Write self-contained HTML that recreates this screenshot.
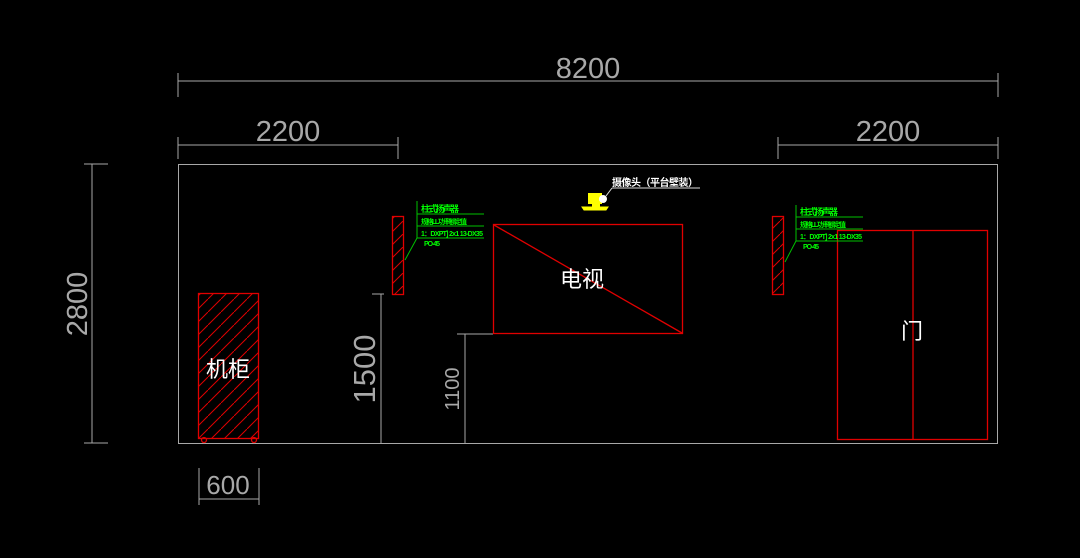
<!DOCTYPE html>
<html><head><meta charset="utf-8"><style>
html,body{margin:0;padding:0;background:#000;}
svg{display:block}
text{font-family:"Liberation Sans","Noto Sans CJK SC",sans-serif;}
</style></head><body>
<svg width="1080" height="558" viewBox="0 0 1080 558" xmlns="http://www.w3.org/2000/svg">
<defs>
<pattern id="h" patternUnits="userSpaceOnUse" width="13" height="13">
<path d="M-1,14 L14,-1" stroke="#e00000" stroke-width="1"/>
</pattern>
</defs>
<g stroke="#a8a8a8" stroke-width="1" fill="none">
<line x1="178" y1="81" x2="998" y2="81"/>
<line x1="178" y1="73" x2="178" y2="97"/>
<line x1="998" y1="73" x2="998" y2="97"/>
<line x1="178" y1="145" x2="398" y2="145"/>
<line x1="178" y1="137" x2="178" y2="159"/>
<line x1="398" y1="137" x2="398" y2="159"/>
<line x1="778" y1="145" x2="998" y2="145"/>
<line x1="778" y1="137" x2="778" y2="159"/>
<line x1="998" y1="137" x2="998" y2="159"/>
<rect x="178.5" y="164.5" width="819" height="279"/>
<line x1="92" y1="164" x2="92" y2="443"/>
<line x1="84" y1="164" x2="108" y2="164"/>
<line x1="84" y1="443" x2="108" y2="443"/>
<line x1="199" y1="468" x2="199" y2="505"/>
<line x1="259" y1="468" x2="259" y2="505"/>
<line x1="199" y1="499" x2="259" y2="499"/>
<line x1="381" y1="294" x2="381" y2="443"/>
<line x1="372" y1="294" x2="384" y2="294"/>
<line x1="465" y1="334" x2="465" y2="443"/>
<line x1="457" y1="334" x2="493" y2="334"/>
</g>
<g fill="#a8a8a8" text-anchor="middle">
<text x="588" y="78" font-size="29">8200</text>
<text x="288" y="141" font-size="29">2200</text>
<text x="888" y="141" font-size="29">2200</text>
<text x="228" y="494" font-size="26">600</text>
<text transform="translate(87,304) rotate(-90)" font-size="29">2800</text>
<text transform="translate(375,369) rotate(-90)" font-size="31">1500</text>
<text transform="translate(459,389) rotate(-90)" font-size="20">1100</text>
</g>
<g stroke="#e00000" stroke-width="1.3">
<rect x="198.5" y="293.5" width="60" height="145" fill="url(#h)"/>
<circle cx="204" cy="440" r="2.5" fill="none"/>
<circle cx="254" cy="440" r="2.5" fill="none"/>
<rect x="392.5" y="216.5" width="11" height="78" fill="url(#h)"/>
<rect x="772.5" y="216.5" width="11" height="78" fill="url(#h)"/>
<rect x="493.5" y="224.5" width="189" height="109" fill="none"/>
<line x1="494" y1="225" x2="682" y2="333"/>
<rect x="837.5" y="230.5" width="150" height="209" fill="none"/>
<line x1="913" y1="230" x2="913" y2="440"/>
</g>
<text x="228" y="377" font-size="22" fill="#fff" text-anchor="middle">机柜</text>
<text x="582" y="287" font-size="22" fill="#fff" text-anchor="middle">电视</text>
<text x="912" y="339" font-size="22" fill="#fff" text-anchor="middle">门</text>
<g fill="#ffff00" stroke="#ffff00">
<rect x="588" y="193" width="14" height="11" stroke="none"/>
<path d="M582,207 L608,207 L606,210 L584,210 Z"/>
<rect x="592" y="203" width="8" height="4" stroke="none"/>
</g>
<circle cx="603" cy="199" r="4" fill="#fff"/>
<line x1="606" y1="196" x2="612" y2="188" stroke="#ddd"/>
<line x1="612" y1="188" x2="700" y2="188" stroke="#ddd"/>
<text x="612" y="186" font-size="10" fill="#fff" font-weight="bold" textLength="86">摄像头（平台壁装）</text>
<g stroke="#00c000" fill="none">
<line x1="417" y1="201" x2="417" y2="238"/>
<line x1="417" y1="214" x2="484" y2="214"/>
<line x1="417" y1="226" x2="484" y2="226"/>
<line x1="417" y1="238" x2="484" y2="238"/>
<line x1="417" y1="238" x2="405" y2="260"/>
<line x1="796" y1="205" x2="796" y2="241"/>
<line x1="796" y1="217" x2="863" y2="217"/>
<line x1="796" y1="229" x2="863" y2="229"/>
<line x1="796" y1="241" x2="863" y2="241"/>
<line x1="796" y1="241" x2="785" y2="262"/>
</g>
<g fill="#00ff00" font-weight="bold">
<text x="421" y="212" font-size="9" textLength="38">柱式扬声器</text>
<text x="421" y="224" font-size="7" textLength="46">规格LL 功率额定值</text>
<text x="421" y="236" font-size="7" textLength="62">1：DXPT] 2x1 13-DX35</text>
<text x="424" y="246" font-size="7" textLength="16">PO-45</text>
<text x="800" y="215" font-size="9" textLength="38">柱式扬声器</text>
<text x="800" y="227" font-size="7" textLength="46">规格LL 功率额定值</text>
<text x="800" y="239" font-size="7" textLength="62">1：DXPT] 2x1 13-DX35</text>
<text x="803" y="249" font-size="7" textLength="16">PO-45</text>
</g>
</svg>
</body></html>
